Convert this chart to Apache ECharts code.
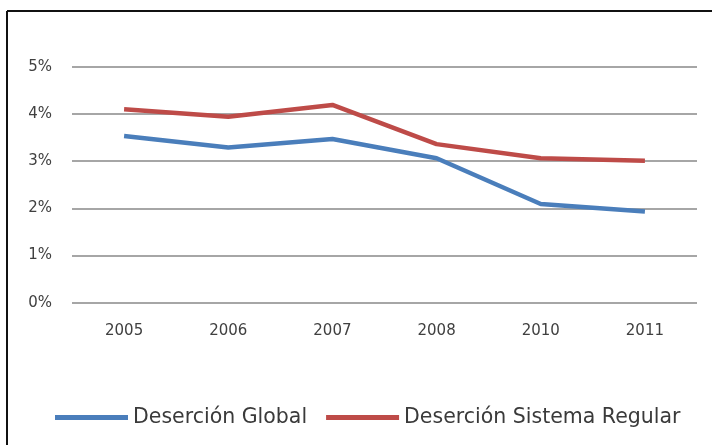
<!DOCTYPE html>
<html><head><meta charset="utf-8">
<script src="https://cdn.jsdelivr.net/npm/echarts@6/dist/echarts.min.js"></script>
<style>html,body{margin:0;padding:0;background:#fff}#c{width:712px;height:445px}</style>
</head><body><div id="c"></div>
<script>
const years = ['2005','2006','2007','2008','2010','2011'];
const desercionGlobal = [3.53, 3.29, 3.47, 3.06, 2.09, 1.93];
const desercionRegular = [4.10, 3.94, 4.19, 3.36, 3.06, 3.01];
const seriesNames = ['Deserción Global', 'Deserción Sistema Regular'];

const chart = echarts.init(document.getElementById('c'));
const font = "'DejaVu Sans', Verdana, sans-serif";
chart.setOption({
  animation: false,
  backgroundColor: '#fff',
  graphic: [
    {type:'line', shape:{x1:7, y1:11, x2:712, y2:11}, style:{stroke:'#111', lineWidth:2}},
    {type:'line', shape:{x1:7, y1:11, x2:7, y2:445}, style:{stroke:'#111', lineWidth:2}}
  ],
  grid: {left: 72, right: 15, top: 66.7, bottom: 142.3, containLabel: false},
  legend: {
    top: 402, left: 50,
    itemWidth: 73, itemHeight: 5, itemGap: 19,
    icon: 'rect',
    textStyle: {fontFamily: font, fontSize: 20.5, color: '#3a3a3a', padding:[0,0,0,0]},
    data: seriesNames
  },
  xAxis: {
    type: 'category', data: years, boundaryGap: true,
    axisLine: {show: false}, axisTick: {show: false},
    axisLabel: {fontFamily: font, fontSize: 15, color: '#404040', margin: 21}
  },
  yAxis: {
    type: 'value', min: 0, max: 5, interval: 1,
    axisLine: {show: false}, axisTick: {show: false},
    axisLabel: {fontFamily: font, fontSize: 15, color: '#404040', margin: 20, formatter: v => v + '%'},
    splitLine: {lineStyle: {color: '#a6a6a6', width: 2}}
  },
  series: [
    {name: seriesNames[0], type: 'line', data: desercionGlobal, symbol: 'none',
     lineStyle: {color: '#4a7ebb', width: 4.5}, itemStyle: {color: '#4a7ebb'}},
    {name: seriesNames[1], type: 'line', data: desercionRegular, symbol: 'none',
     lineStyle: {color: '#be4b48', width: 4.5}, itemStyle: {color: '#be4b48'}}
  ]
});
</script></body></html>
